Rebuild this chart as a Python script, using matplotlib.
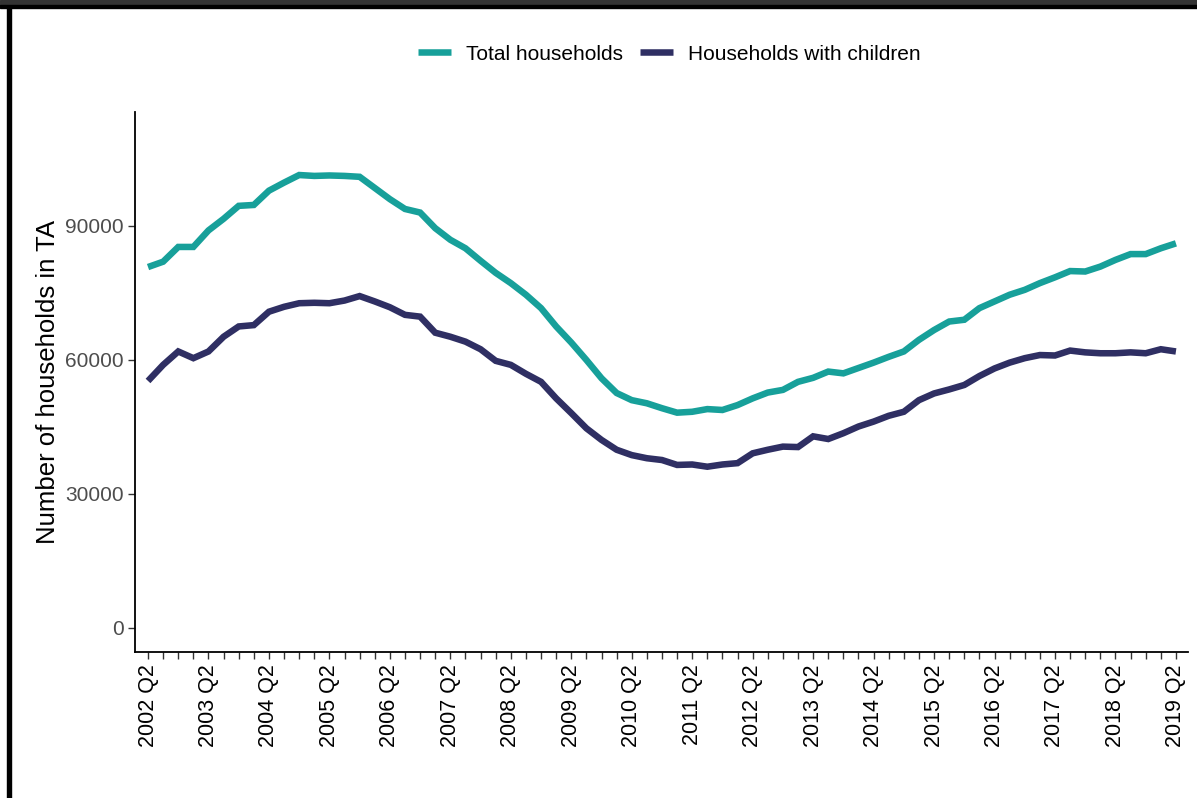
import matplotlib.pyplot as plt
from matplotlib.patches import Rectangle

plt.rcParams['font.family'] = ['Liberation Sans', 'DejaVu Sans']

# quarterly series, 2002 Q2 to 2019 Q2
quarters = []
for y in range(2002, 2020):
    for q in range(1, 5):
        if (y == 2002 and q < 2) or (y == 2019 and q > 2):
            continue
        quarters.append(f"{y} Q{q}")

total_households = [
    80800, 82000, 85300, 85300, 89000, 91600, 94500, 94700, 97900, 99700,
    101400, 101200, 101300, 101200, 101000, 98500, 96000, 93800, 93000, 89500,
    86900, 85000, 82200, 79500, 77200, 74600, 71600, 67500, 63900, 60000,
    55900, 52600, 51000, 50300, 49200, 48200, 48400, 49000, 48800, 49900,
    51400, 52700, 53300, 55100, 56000, 57400, 57000, 58200, 59400, 60700,
    61900, 64500, 66700, 68600, 69000, 71600, 73100, 74600, 75700, 77200,
    78500, 79900, 79800, 80900, 82400, 83700, 83700, 85000, 86100,
]
children_households = [
    55300, 58900, 61900, 60400, 61900, 65200, 67500, 67800, 70800, 71900,
    72700, 72800, 72700, 73300, 74300, 73100, 71800, 70100, 69700, 66100,
    65200, 64100, 62400, 59800, 58900, 56900, 55100, 51400, 48100, 44700,
    42100, 39900, 38700, 38000, 37600, 36500, 36600, 36100, 36600, 36900,
    39100, 39900, 40600, 40500, 42900, 42300, 43600, 45100, 46200, 47500,
    48400, 51000, 52500, 53400, 54400, 56400, 58100, 59400, 60400, 61100,
    61000, 62100, 61700, 61500, 61500, 61700, 61500, 62400, 61900,
]
y_ticks = [0, 30000, 60000, 90000]

teal = "#17A09A"
navy = "#2F2F63"

fig = plt.figure(figsize=(11.97, 7.98), dpi=100)

# screenshot frame: dark bar on top, black border on the left
fig.patches.append(Rectangle((0, 0.9937), 1, 0.0063, transform=fig.transFigure,
                             color="#333333", zorder=0))
fig.patches.append(Rectangle((0, 0.9900), 1, 0.0040, transform=fig.transFigure,
                             color="black", zorder=0))
fig.patches.append(Rectangle((0.0058, 0), 0.0030, 0.993, transform=fig.transFigure,
                             color="black", zorder=0))

ax = fig.add_axes([0.1128, 0.1830, 0.8797, 0.6766])
x = list(range(len(quarters)))
ax.plot(x, total_households, color=teal, lw=4.7, label="Total households",
        solid_joinstyle="miter", solid_capstyle="butt")
ax.plot(x, children_households, color=navy, lw=4.7, label="Households with children",
        solid_joinstyle="miter", solid_capstyle="butt")

ax.set_xlim(-0.86, 68.8)
ax.set_ylim(-5370, 115500)

major = [i for i, q in enumerate(quarters) if q.endswith("Q2")]
ax.set_xticks(major)
ax.set_xticklabels([quarters[i] for i in major], rotation=90, fontsize=15.5, color="black")
ax.set_xticks(x, minor=True)
ax.tick_params(axis="x", which="both", length=5, width=1, color="#333333", pad=4)
ax.set_yticks(y_ticks)
ax.set_yticklabels([str(v) for v in y_ticks], fontsize=15, color="#4D4D4D")
ax.tick_params(axis="y", length=5, width=1, color="#333333", pad=3)

for s in ["top", "right"]:
    ax.spines[s].set_visible(False)
for s in ["left", "bottom"]:
    ax.spines[s].set_linewidth(1.3)
    ax.spines[s].set_color("black")

ax.set_ylabel("Number of households in TA", fontsize=18.5, labelpad=4)

fig.legend(loc="center", bbox_to_anchor=(0.559, 0.932), ncol=2, frameon=False,
           fontsize=15, handlelength=1.6, handletextpad=0.7, columnspacing=0.8)

fig.savefig("out.png", dpi=100)
